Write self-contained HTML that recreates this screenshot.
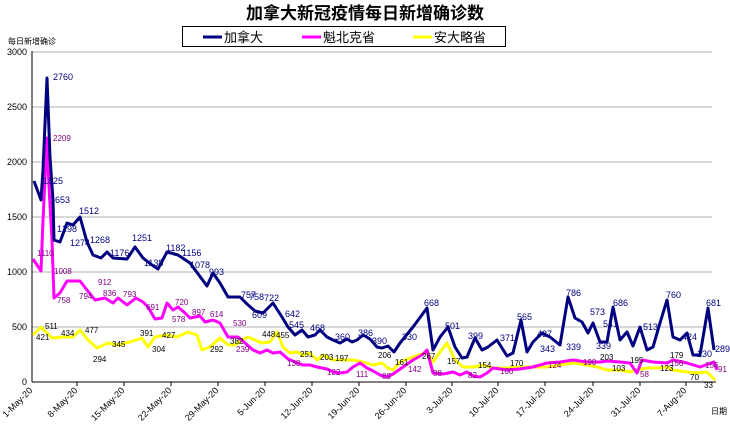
<!DOCTYPE html>
<html><head><meta charset="utf-8"><style>
body{margin:0;background:#fff;}
svg{display:block;font-family:"Liberation Sans","Noto Sans CJK SC",sans-serif;}
</style></head><body>
<svg width="730" height="425" viewBox="0 0 730 425">
<text x="365" y="19" text-anchor="middle" font-size="17" font-weight="bold" fill="#000">加拿大新冠疫情每日新增确诊数</text>
<rect x="182.5" y="26.5" width="323" height="20" fill="#fff" stroke="#000"/>
<line x1="203" y1="37" x2="222" y2="37" stroke="#000080" stroke-width="3"/>
<text x="224" y="42" font-size="13">加拿大</text>
<line x1="302" y1="37" x2="321" y2="37" stroke="#ff00ff" stroke-width="3"/>
<text x="323" y="42" font-size="13">魁北克省</text>
<line x1="413" y1="37" x2="432" y2="37" stroke="#ffff00" stroke-width="3"/>
<text x="434" y="42" font-size="13">安大略省</text>
<text x="8" y="44" font-size="8">每日新增确诊</text>
<g stroke="#b0b0b0" stroke-width="1">
<line x1="32" y1="52" x2="712" y2="52"/><line x1="32" y1="107" x2="712" y2="107"/>
<line x1="32" y1="162" x2="712" y2="162"/><line x1="32" y1="217" x2="712" y2="217"/>
<line x1="32" y1="272" x2="712" y2="272"/><line x1="32" y1="327" x2="712" y2="327"/>
</g>
<line x1="32" y1="51" x2="32" y2="382" stroke="#000"/>
<line x1="32" y1="382" x2="716" y2="382" stroke="#000"/>
<g font-size="9" text-anchor="end">
<text x="27" y="55">3000</text><text x="27" y="110">2500</text><text x="27" y="165">2000</text>
<text x="27" y="220">1500</text><text x="27" y="275">1000</text><text x="27" y="330">500</text><text x="27" y="385">0</text>
</g>
<g stroke="#000">
<line x1="77" y1="382" x2="77" y2="386"/><line x1="124" y1="382" x2="124" y2="386"/><line x1="171" y1="382" x2="171" y2="386"/>
<line x1="218" y1="382" x2="218" y2="386"/><line x1="265" y1="382" x2="265" y2="386"/><line x1="312" y1="382" x2="312" y2="386"/>
<line x1="359" y1="382" x2="359" y2="386"/><line x1="406" y1="382" x2="406" y2="386"/><line x1="452" y1="382" x2="452" y2="386"/>
<line x1="498" y1="382" x2="498" y2="386"/><line x1="545" y1="382" x2="545" y2="386"/><line x1="593" y1="382" x2="593" y2="386"/>
<line x1="640" y1="382" x2="640" y2="386"/><line x1="686" y1="382" x2="686" y2="386"/>
</g>
<g font-size="9">
<text transform="translate(33,391) rotate(-45)" text-anchor="end">1-May-20</text>
<text transform="translate(78,391) rotate(-45)" text-anchor="end">8-May-20</text>
<text transform="translate(125,391) rotate(-45)" text-anchor="end">15-May-20</text>
<text transform="translate(172,391) rotate(-45)" text-anchor="end">22-May-20</text>
<text transform="translate(219,391) rotate(-45)" text-anchor="end">29-May-20</text>
<text transform="translate(266,391) rotate(-45)" text-anchor="end">5-Jun-20</text>
<text transform="translate(313,391) rotate(-45)" text-anchor="end">12-Jun-20</text>
<text transform="translate(360,391) rotate(-45)" text-anchor="end">19-Jun-20</text>
<text transform="translate(407,391) rotate(-45)" text-anchor="end">26-Jun-20</text>
<text transform="translate(453,391) rotate(-45)" text-anchor="end">3-Jul-20</text>
<text transform="translate(499,391) rotate(-45)" text-anchor="end">10-Jul-20</text>
<text transform="translate(546,391) rotate(-45)" text-anchor="end">17-Jul-20</text>
<text transform="translate(594,391) rotate(-45)" text-anchor="end">24-Jul-20</text>
<text transform="translate(641,391) rotate(-45)" text-anchor="end">31-Jul-20</text>
<text transform="translate(687,391) rotate(-45)" text-anchor="end">7-Aug-20</text>
<text x="711" y="414" font-size="8">日期</text>
</g>
<polyline fill="none" stroke="#ffff00" stroke-width="3" stroke-linejoin="round" points="33,335 41,327 52,338 63,337 73,337 80,330 88,340 97,348 108,343 118,345 130,342 142,338 148,347 155,337 167,335 177,337 188,332 197,335 202,350 210,347 220,338 228,345 235,345 242,340 248,337 255,340 262,343 270,342 277,332 283,347 290,353 297,352 303,355 310,353 317,360 323,355 333,360 343,360 353,360 363,362 373,365 382,363 388,368 393,370 400,362 413,357 427,352 433,362 440,352 447,343 455,360 463,367 473,367 483,365 493,368 507,368 520,367 533,367 547,367 560,365 573,363 587,365 597,367 607,370 620,370 630,372 637,370 647,368 660,368 667,367 673,370 687,372 697,373 707,372 715,380"/>
<polyline fill="none" stroke="#ff00ff" stroke-width="3" stroke-linejoin="round" points="33,259 41,271 43,220 47,138 49,187 52,240 54,298 60,293 67,281 80,281 87,290 95,300 105,298 113,303 118,298 127,305 136,298 143,302 148,307 155,319 162,318 167,303 173,310 178,307 185,313 190,318 200,316 205,322 213,320 220,323 228,337 233,337 238,337 245,343 253,350 260,353 267,350 273,353 280,352 288,359 295,362 303,365 310,365 317,367 327,369 333,372 340,373 347,372 353,367 360,363 367,368 373,371 380,375 387,377 393,374 403,367 413,360 422,355 427,350 433,373 443,374 453,372 460,375 467,372 473,376 480,377 487,373 493,368 507,370 520,369 533,367 547,363 560,362 573,360 587,362 600,362 607,361 620,362 630,363 637,373 642,360 653,362 667,363 673,360 687,363 700,367 714,362 717,370"/>
<polyline fill="none" stroke="#000080" stroke-width="3" stroke-linejoin="round" points="34,181 41,200 43,170 47,78 50,157 53,200 54,240 60,242 67,223 73,225 80,217 87,242 93,255 101,258 107,252 113,258 127,259 135,247 143,258 152,265 158,269 167,252 178,255 190,263 207,286 213,273 220,283 228,297 233,297 240,297 247,304 255,311 263,313 273,303 282,317 288,327 295,335 302,330 308,337 315,335 320,330 327,337 333,340 340,343 347,339 352,342 357,340 363,335 370,339 377,347 382,348 388,346 394,352 400,343 413,327 427,308 433,350 440,337 448,327 455,347 462,358 467,357 475,338 482,350 488,347 497,340 507,356 513,353 521,320 527,352 533,342 542,333 550,337 560,345 568,297 575,318 582,322 588,333 593,323 600,342 607,342 613,307 620,340 627,332 633,346 640,327 647,350 653,347 660,323 667,300 673,337 680,340 687,333 693,355 700,355 708,308 714,350"/>
<g font-size="9" fill="#000080">
<text x="53" y="80">2760</text><text x="43" y="184">1825</text><text x="50" y="203">1653</text><text x="79" y="214">1512</text><text x="132" y="241">1251</text><text x="166" y="251">1182</text>
<text x="264" y="301">722</text><text x="424" y="306">668</text><text x="566" y="296">786</text><text x="613" y="306">686</text>
<text x="666" y="298">760</text><text x="706" y="306">681</text><text x="517" y="320">565</text><text x="715" y="352">289</text>
<text x="209" y="275">993</text><text x="90" y="243">1268</text><text x="70" y="246">1274</text><text x="57" y="232">1298</text>
<text x="110" y="256">1176</text><text x="144" y="266">1138</text><text x="182" y="256">1156</text><text x="190" y="268">1078</text>
<text x="241" y="298">757</text><text x="249" y="300">758</text><text x="252" y="318">609</text><text x="285" y="317">642</text>
<text x="289" y="328">545</text><text x="310" y="331">468</text><text x="335" y="340">360</text><text x="358" y="336">386</text>
<text x="372" y="344">390</text><text x="402" y="340">330</text><text x="445" y="329">501</text><text x="468" y="339">399</text>
<text x="500" y="341">371</text><text x="537" y="337">437</text><text x="590" y="315">573</text><text x="603" y="327">541</text>
<text x="596" y="349">339</text><text x="643" y="330">513</text><text x="682" y="340">424</text><text x="697" y="357">230</text>
<text x="566" y="350">339</text><text x="540" y="352">343</text>
</g>
<g font-size="8" fill="#800080">
<text x="53" y="141">2209</text><text x="37" y="256">1110</text><text x="54" y="274">1008</text><text x="57" y="303">758</text>
<text x="79" y="299">794</text><text x="175" y="305">720</text><text x="123" y="297">793</text><text x="210" y="317">614</text>
<text x="98" y="285">912</text><text x="103" y="296">836</text><text x="146" y="310">691</text><text x="172" y="322">578</text>
<text x="192" y="315">897</text><text x="233" y="326">530</text><text x="236" y="352">239</text><text x="287" y="366">138</text>
<text x="327" y="375">122</text><text x="356" y="377">111</text><text x="382" y="379">89</text><text x="408" y="372">142</text>
<text x="433" y="376">88</text><text x="468" y="378">82</text><text x="500" y="374">100</text><text x="548" y="368">124</text>
<text x="583" y="365">190</text><text x="640" y="377">58</text><text x="670" y="366">156</text><text x="705" y="368">156</text><text x="718" y="372">91</text>
</g>
<g font-size="8" fill="#000">
<text x="36" y="340">421</text><text x="45" y="329">511</text><text x="61" y="336">434</text><text x="93" y="362">294</text><text x="85" y="333">477</text>
<text x="152" y="352">304</text><text x="112" y="347">345</text><text x="140" y="336">391</text><text x="162" y="338">427</text>
<text x="210" y="352">292</text><text x="230" y="344">382</text><text x="262" y="337">448</text><text x="276" y="338">455</text>
<text x="300" y="357">251</text><text x="320" y="360">203</text><text x="335" y="361">197</text><text x="378" y="358">206</text>
<text x="395" y="365">161</text><text x="422" y="359">267</text><text x="447" y="364">157</text><text x="478" y="368">154</text>
<text x="510" y="366">170</text><text x="600" y="360">203</text><text x="612" y="371">103</text><text x="630" y="363">195</text>
<text x="660" y="371">123</text><text x="670" y="358">179</text><text x="690" y="380">70</text><text x="704" y="388">33</text>
</g>
</svg>
</body></html>
